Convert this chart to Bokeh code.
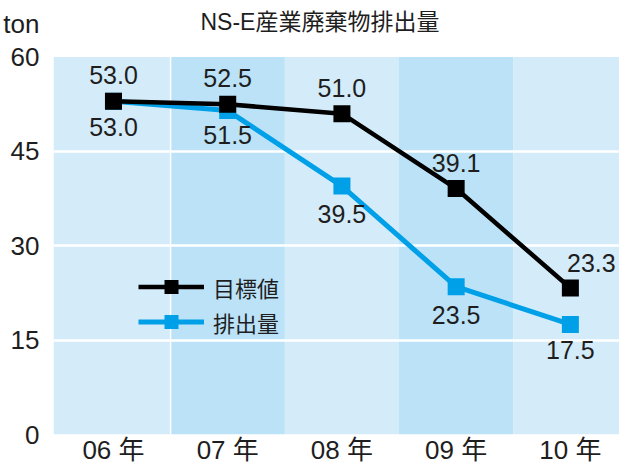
from bokeh.plotting import figure
from bokeh.models import (Range1d, FixedTicker, BoxAnnotation, Span, Legend, LegendItem,
                          Label, ColumnDataSource)
from bokeh.core.properties import value
from bokeh.embed import file_html
from bokeh.resources import INLINE

# ---- data ----
years = ["06 年", "07 年", "08 年", "09 年", "10 年"]
target = [53.0, 52.5, 51.0, 39.1, 23.3]      # 目標値
emission = [53.0, 51.5, 39.5, 23.5, 17.5]    # 排出量
series_names = ["目標値", "排出量"]
y_ticks = [0, 15, 30, 45, 60]
title_text = "NS-E産業廃棄物排出量"
unit_text = "ton"

# ---- styles ----
FONT = "Liberation Sans, Noto Sans CJK JP"
TXT = "#1e1e1e"
BLUE = "#00a0e9"
BAND_LIGHT = "#d4ebf9"
BAND_DARK = "#bbe2f7"

idx = list(range(len(years)))
y_max = y_ticks[-1]
y_top = y_max * 437 / 380          # room above the value axis for title and unit
unit_pos = y_max + 33 * y_max / 380  # unit caption sits ~33px above the top tick

target_off_x = [0, 0, 0, 0, 21]
target_off_y = [-26, -26, -26, -26, -25]
emission_off_y = [26, 24, 28, 28, 26]

src = ColumnDataSource(dict(
    x=idx, target=target, emission=emission,
    tlab=[f"{v:.1f}" for v in target], elab=[f"{v:.1f}" for v in emission],
    tox=target_off_x, toy=target_off_y, eoy=emission_off_y,
))

p = figure(width=619, height=467, output_backend="svg", toolbar_location=None,
           x_range=Range1d(-0.525, 4.43), y_range=Range1d(0, y_top),
           min_border_left=53, min_border_right=0, min_border_top=0, min_border_bottom=0)
p.outline_line_color = None
p.background_fill_color = "white"
p.border_fill_color = "white"

# alternating column bands, only up to the top tick
for i in idx:
    p.add_layout(BoxAnnotation(left=(i - 0.5) if i > 0 else None,
                               right=(i + 0.5) if i < idx[-1] else None,
                               bottom=0, top=y_max,
                               fill_color=BAND_DARK if i % 2 else BAND_LIGHT,
                               fill_alpha=1, line_color=None, level="image"))
p.add_layout(Span(location=idx[0] + 0.5, dimension="height", line_color="white",
                  line_width=1.5, level="underlay"))

p.xgrid.visible = False
p.ygrid.ticker = FixedTicker(ticks=y_ticks[1:-1])
p.ygrid.grid_line_color = "white"
p.ygrid.grid_line_width = 2.5
p.ygrid.level = "underlay"

p.yaxis.ticker = FixedTicker(ticks=y_ticks + [unit_pos])
p.yaxis.major_label_overrides = {unit_pos: unit_text}
p.xaxis.ticker = FixedTicker(ticks=idx)
p.xaxis.major_label_overrides = {i: years[i] for i in idx}
for ax in (p.xaxis, p.yaxis):
    ax.axis_line_color = None
    ax.major_tick_line_color = None
    ax.minor_tick_line_color = None
    ax.major_label_text_font = FONT
    ax.major_label_text_font_size = "26px"
    ax.major_label_text_color = TXT
p.yaxis.major_label_standoff = 8
p.xaxis.major_label_standoff = -6

bl = p.line("x", "emission", source=src, line_color=BLUE, line_width=5)
bs = p.scatter("x", "emission", source=src, marker="square", size=17,
               fill_color=BLUE, line_color=None)
kl = p.line("x", "target", source=src, line_color="black", line_width=4.5)
ks = p.scatter("x", "target", source=src, marker="square", size=17,
               fill_color="black", line_color=None)

p.text("x", "target", text="tlab", source=src, x_offset="tox", y_offset="toy",
       text_align="center", text_baseline="middle", text_font=value(FONT),
       text_font_size="25px", text_color=TXT)
p.text("x", "emission", text="elab", source=src, y_offset="eoy",
       text_align="center", text_baseline="middle", text_font=value(FONT),
       text_font_size="25px", text_color=TXT)

legend = Legend(items=[LegendItem(label=series_names[0], renderers=[kl, ks]),
                       LegendItem(label=series_names[1], renderers=[bl, bs])],
                location=(85, 95), orientation="vertical",
                glyph_width=66, glyph_height=35, spacing=0, label_standoff=9,
                padding=0, margin=0, border_line_color=None,
                background_fill_alpha=0,
                label_text_font=FONT, label_text_font_size="22px",
                label_text_color=TXT)
p.add_layout(legend)

# chart title, inside the top white strip of the frame
p.add_layout(Label(x=147, y=413, x_units="screen", y_units="screen", text=title_text,
                   text_font=FONT, text_font_size="23px", text_color=TXT,
                   text_baseline="middle", text_align="left"))

open("out.html", "w").write(file_html(p, INLINE))
